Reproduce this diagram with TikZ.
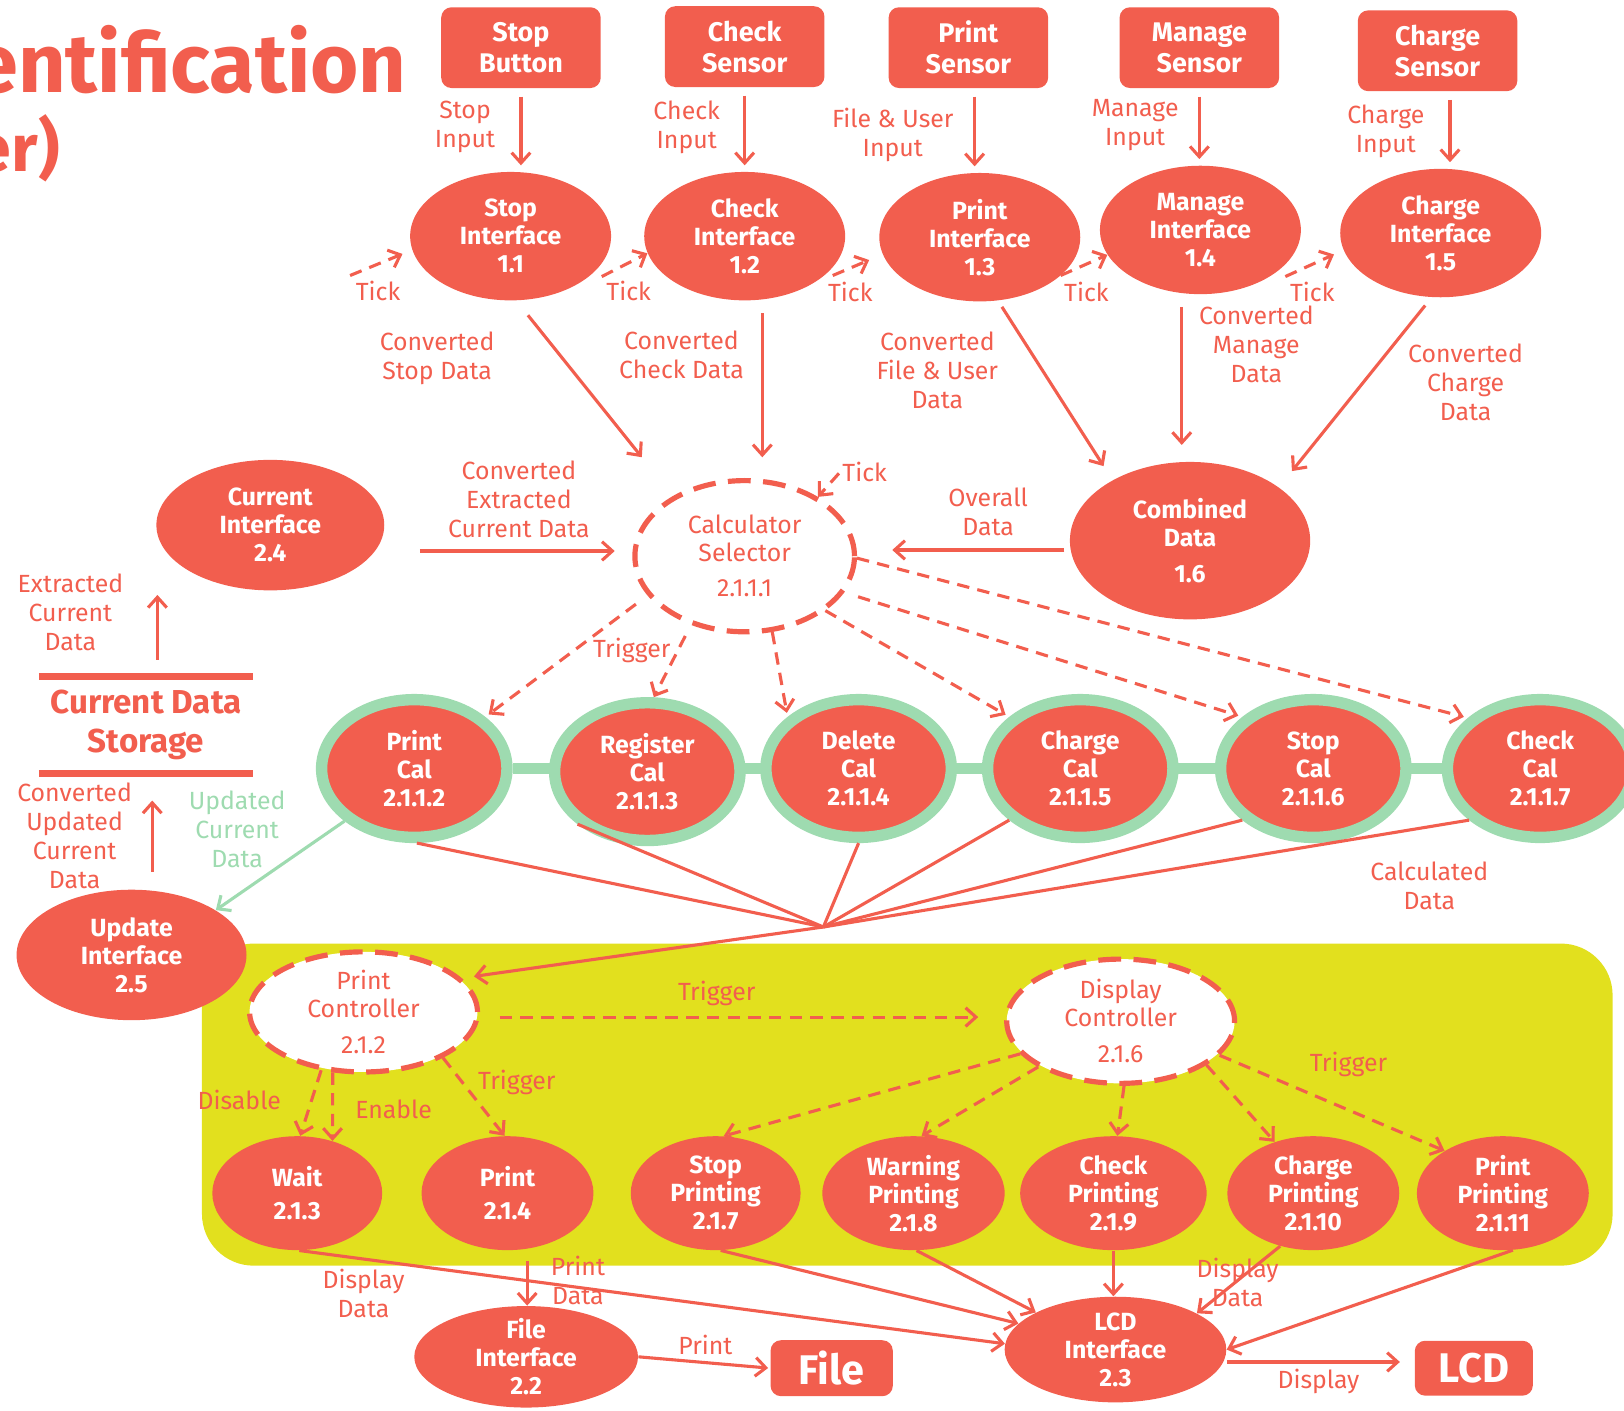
\documentclass[tikz,border=0pt]{standalone}
\usepackage{fontspec}
\setmainfont{Fira Sans}
\usetikzlibrary{arrows.meta,shapes.geometric}
\definecolor{rd}{RGB}{242,94,78}
\definecolor{gn}{RGB}{158,219,176}
\definecolor{yl}{RGB}{226,224,30}
\pgfdeclarelayer{background}
\pgfsetlayers{background,main}
\tikzset{
 lbl/.style={text=rd, font=\fontsize{12}{14}\selectfont, align=center, inner sep=0pt},
 glbl/.style={lbl, text=gn},
 wtxt/.style={text=white, font=\bfseries\fontsize{12}{13.5}\selectfont, align=center, inner sep=0pt},
 sensor/.style={wtxt, rectangle, rounded corners=5pt, fill=rd, minimum width=77pt, minimum height=39pt, font=\bfseries\fontsize{13}{15}\selectfont},
 proc/.style={wtxt, ellipse, fill=rd},
 iface/.style={proc, minimum width=97pt, minimum height=62pt},
 ring/.style={proc, draw=gn, line width=5.5pt, minimum width=89.5pt, minimum height=66.5pt},
 bot/.style={proc, minimum height=55pt},
 ctrl/.style={ellipse, fill=white, draw=rd, line width=2.5pt, dash pattern=on 11pt off 6pt, text=rd, font=\fontsize{12}{13.5}\selectfont, align=center, inner sep=0pt},
 arr/.style={draw=rd, line width=1.5pt, -{Straight Barb[length=5pt,width=9pt]}},
 darr/.style={arr, dash pattern=on 6pt off 4pt},
 ln/.style={draw=rd, line width=1.5pt},
 ttl/.style={text=rd, inner sep=0pt, font=\bfseries\fontsize{40}{41}\selectfont},
}
\begin{document}
\begin{tikzpicture}[x=0.5pt,y=-0.5pt]
\useasboundingbox (0,0) rectangle (1568,1362);
% title
\node[ttl, anchor=base east] (t1) at (393,89) {entification};
\node[ttl, anchor=base east, font=\bfseries\fontsize{32}{33}\selectfont] (t2) at (58,166) {er)};
% sensors
\node[sensor] (sb) at (503,46) {Stop\\Button};
\node[sensor] (cs) at (719,45) {Check\\Sensor};
\node[sensor] (ps) at (935,46) {Print\\Sensor};
\node[sensor] (ms) at (1158,46) {Manage\\Sensor};
\node[sensor] (chs) at (1388,49) {Charge\\Sensor};
% interfaces
\node[iface] (si) at (493,228) {Stop\\Interface\\1.1};
\node[iface] (ci) at (719,228) {Check\\Interface\\1.2};
\node[iface] (pi) at (946,229) {Print\\Interface\\1.3};
\node[iface] (mi) at (1159,222) {Manage\\Interface\\1.4};
\node[iface] (chi) at (1391,225) {Charge\\Interface\\1.5};
% middle
\node[ctrl, minimum width=106pt, minimum height=73pt] (calc) at (719,537) {Calculator\\Selector\\[3.5pt]2.1.1.1};
\node[proc, minimum width=116pt, minimum height=76pt] (comb) at (1149,522) {Combined\\Data\\[4pt]1.6};
\node[proc, minimum width=110pt, minimum height=63pt] (cur) at (261,507) {Current\\Interface\\2.4};
\node[text=rd, font=\bfseries\fontsize{16}{18.5}\selectfont, align=center, minimum width=103pt, minimum height=46.5pt, inner sep=0pt] (cds) at (141,700) {Current Data\\Storage};
\draw[rd, line width=3.5pt] (cds.north west) -- (cds.north east);
\draw[rd, line width=3.5pt] (cds.south west) -- (cds.south east);
% cal ring row
\node[ring] (pc) at (400,742) {Print\\Cal\\2.1.1.2};
\node[ring] (rc) at (625,745) {Register\\Cal\\2.1.1.3};
\node[ring] (dc) at (829,742) {Delete\\Cal\\2.1.1.4};
\node[ring] (chc) at (1043,742) {Charge\\Cal\\2.1.1.5};
\node[ring] (stc) at (1268,742) {Stop\\Cal\\2.1.1.6};
\node[ring] (kc) at (1487,742) {Check\\Cal\\2.1.1.7};
\begin{pgfonlayer}{background}
\fill[yl, rounded corners=25pt] (195,911) rectangle (1557,1222);
\draw[gn, line width=5pt] (pc) -- (kc);
\end{pgfonlayer}
\node[proc, minimum width=111pt, minimum height=63pt] (up) at (127,922) {Update\\Interface\\2.5};
% controllers
\node[ctrl, minimum width=110pt, minimum height=58pt] (prc) at (351,977) {Print\\Controller\\[4pt]2.1.2};
\node[ctrl, minimum width=110pt, minimum height=60pt] (dsc) at (1082,986) {Display\\Controller\\[4pt]2.1.6};
% bottom row
\node[bot, minimum width=82pt] (wt) at (287,1152) {Wait\\[2pt]2.1.3};
\node[bot, minimum width=83pt] (pr) at (490,1152) {Print\\[2pt]2.1.4};
\node[bot, minimum width=82pt] (sp) at (691,1152) {Stop\\Printing\\2.1.7};
\node[bot, minimum width=88pt] (wp) at (882,1152) {Warning\\Printing\\2.1.8};
\node[bot, minimum width=90pt] (ckp) at (1075,1152) {Check\\Printing\\2.1.9};
\node[bot, minimum width=83pt] (cgp) at (1268,1152) {Charge\\Printing\\2.1.10};
\node[bot, minimum width=83pt] (pp) at (1451,1152) {Print\\Printing\\2.1.11};
\node[proc, minimum width=107pt, minimum height=51pt, inner sep=-4pt] (lcd) at (1077,1303) {LCD\\Interface\\2.3};
\node[proc, minimum width=108pt, minimum height=49pt, inner sep=-4pt] (fi) at (508,1310) {File\\Interface\\2.2};
\node[sensor, minimum width=59pt, minimum height=27pt, font=\bfseries\fontsize{20}{22}\selectfont] (fb) at (803,1321) {File};
\node[sensor, minimum width=57pt, minimum height=26.5pt, font=\bfseries\fontsize{20}{22}\selectfont] (lb) at (1423,1321) {LCD};

% sensor -> interface
\draw[arr, shorten <=4pt, shorten >=3pt] (sb.south) -- (sb.south |- si.north);
\draw[arr, shorten <=4pt, shorten >=3pt] (cs.south) -- (cs.south |- ci.north);
\draw[arr, shorten <=4pt, shorten >=3pt] ([xshift=3pt]ps.south) -- ([xshift=3pt]ps.south |- pi.north);
\draw[arr, shorten <=4pt, shorten >=3pt] (ms.south) -- (ms.south |- mi.north);
\draw[arr, shorten <=4pt, shorten >=3pt] ([xshift=6pt]chs.south) -- ([xshift=6pt]chs.south |- chi.north);
\node[lbl] (l1) at (449,123) {Stop\\Input};
\node[lbl] (l2) at (663,123) {Check\\Input};
\node[lbl] (l3) at (862,130) {File \& User\\Input};
\node[lbl] (l4) at (1096,121) {Manage\\Input};
\node[lbl] (l5) at (1338,127) {Charge\\Input};
% ticks
\coordinate (tk1) at (338,266);
\coordinate (tk2) at (581,267);
\coordinate (tk3) at (804,266);
\coordinate (tk4) at (1024,266);
\coordinate (tk5) at (1241,267);
\coordinate (tk6) at (810,457);
\draw[darr, shorten >=5pt] (tk1) -- (si.188);
\draw[darr] (tk2) -- (ci.190);
\draw[darr, shorten >=7pt] (tk3) -- (pi.190);
\draw[darr] (tk4) -- (mi.195);
\draw[darr, shorten >=5pt] (tk5) -- (chi.190);
\draw[darr] (tk6) -- (calc.39);
\node[lbl] (tl1) at (365,281) {Tick};
\node[lbl] (tl2) at (607,281) {Tick};
\node[lbl] (tl3) at (821,282) {Tick};
\node[lbl] (tl4) at (1049,282) {Tick};
\node[lbl] (tl5) at (1267,282) {Tick};
\node[lbl, anchor=west] (tl6) at (813,456) {Tick};
% converted
\draw[arr, shorten <=9pt, shorten >=24pt] (si.-85) -- (calc.140);
\draw[arr, shorten <=6pt, shorten >=10pt] ([xshift=8.5pt]ci.south) -- ([xshift=8.5pt]ci.south |- calc.north);
\draw[arr, shorten <=3.5pt, shorten >=8pt] (pi.-74) -- (comb.142);
\draw[arr, shorten <=6pt, shorten >=8pt] ([xshift=-9pt]mi.south) -- ([xshift=-9pt]mi.south |- comb.north);
\draw[arr, shorten <=5pt, shorten >=10pt] (chi.-98) -- (comb.31);
\node[lbl] (l6) at (422,346) {Converted\\Stop Data};
\node[lbl] (l7) at (658,343) {Converted\\Check Data};
\node[lbl] (l8) at (905,358) {Converted\\File \& User\\Data};
\node[lbl] (l9) at (1213,332) {Converted\\Manage\\Data};
\node[lbl] (l10) at (1415,369) {Converted\\Charge\\Data};
% overall, extracted
\draw[arr, shorten <=2.5pt, shorten >=17pt] ([yshift=-4.5pt]comb.west) -- ([yshift=-4.5pt]comb.west -| calc.east);
\node[lbl] (l11) at (954,494) {Overall\\Data};
\draw[arr, shorten <=17pt, shorten >=8.5pt] ([yshift=-12.5pt]cur.east) -- ([yshift=-12.5pt]cur.east -| calc.west);
\node[lbl] (l12) at (501,482) {Converted\\Extracted\\Current Data};
% storage
\draw[arr, shorten <=8pt, shorten >=2pt] ([xshift=5.5pt]cds.north) -- ([xshift=5.5pt]cds.north |- cur.south);
\draw[arr, shorten <=8.5pt, shorten >=13pt] ([xshift=10pt]up.north) -- ([xshift=10pt]up.north |- cds.south);
\node[lbl] (l13) at (68,591) {Extracted\\Current\\Data};
\node[lbl] (l14) at (72,807) {Converted\\Updated\\Current\\Data};
\node[glbl] (l15) at (229,801) {Updated\\Current\\Data};
\draw[arr, draw=gn] (pc.217) -- (up.28);
% triggers from calc
\draw[darr, shorten <=7pt, shorten >=2pt] (calc.202) -- (pc.36);
\draw[darr, shorten <=6pt] (calc.232) -- (rc.85);
\draw[darr, shorten >=2pt] (calc.-70) -- (dc.144);
\draw[darr, shorten >=2pt] (calc.-34) -- (chc.144);
\draw[darr, shorten <=7pt, shorten >=2pt] (calc.-20) -- (stc.144);
\draw[darr, shorten >=2pt] (calc.-1) -- (kc.145);
\node[lbl] (l16) at (610,628) {Trigger};
% calculated data
\coordinate (cd) at (795,895);
\draw[ln] (pc.-88) -- (cd);
\draw[ln] (rc.217) -- (cd);
\draw[ln] (dc.-90) -- (cd);
\draw[ln] (chc.216) -- (cd);
\draw[ln] (stc.216) -- (cd);
\draw[ln] (kc.216) -- (cd);
\draw[arr, shorten >=6pt] (cd) -- (prc.19);
\node[lbl] (l17) at (1380,855) {Calculated\\Data};
% print controller
\draw[darr, shorten <=9.5pt, shorten >=12.5pt] ([yshift=-2.5pt]prc.east) -- ([yshift=-2.5pt]prc.east -| dsc.west);
\node[lbl] (l18) at (692,959) {Trigger};
\draw[darr] (prc.234) -- (wt.87);
\draw[darr] (prc.243) -- (wt.56);
\node[lbl] (l19) at (231,1062) {Disable};
\node[lbl] (l20) at (380,1071) {Enable};
\draw[darr] (prc.-30) -- (pr.93);
\node[lbl] (l21) at (499,1045) {Trigger};
% display controller
\draw[darr] (dsc.198) -- (sp.82);
\draw[darr] (dsc.209) -- (wp.82);
\draw[darr] (dsc.-87) -- (ckp.86);
\draw[darr] (dsc.-27) -- (cgp.127);
\draw[darr] (dsc.-19) -- (pp.144);
\node[lbl] (l22) at (1302,1028) {Trigger};
% to LCD
\draw[arr] (wt.-88) -- (lcd.177);
\draw[arr] (sp.-85) -- (lcd.165);
\draw[arr] (wp.-87) -- (lcd.155);
\draw[arr] (ckp.south) -- (ckp.south |- lcd.north);
\draw[arr] (cgp.238) -- (lcd.24);
\draw[arr] (pp.-80) -- (lcd.east);
\node[lbl] (l23) at (1195,1238) {Display\\Data};
\node[lbl] (l24) at (351,1249) {Display\\Data};
% file
\draw[arr, shorten <=5pt] ([xshift=9.5pt]pr.south) -- ([xshift=9.5pt]pr.south |- fi.north);
\node[lbl] (l25) at (558,1236) {Print\\Data};
\draw[arr, shorten >=1pt] (fi.east) -- (fb.west);
\node[lbl] (l26) at (681,1299) {Print};
\draw[arr, shorten >=7pt] ([yshift=-6pt]lcd.east) -- ([yshift=-6pt]lcd.east -| lb.west);
\node[lbl] (l27) at (1273,1334) {Display};
\end{tikzpicture}
\end{document}
